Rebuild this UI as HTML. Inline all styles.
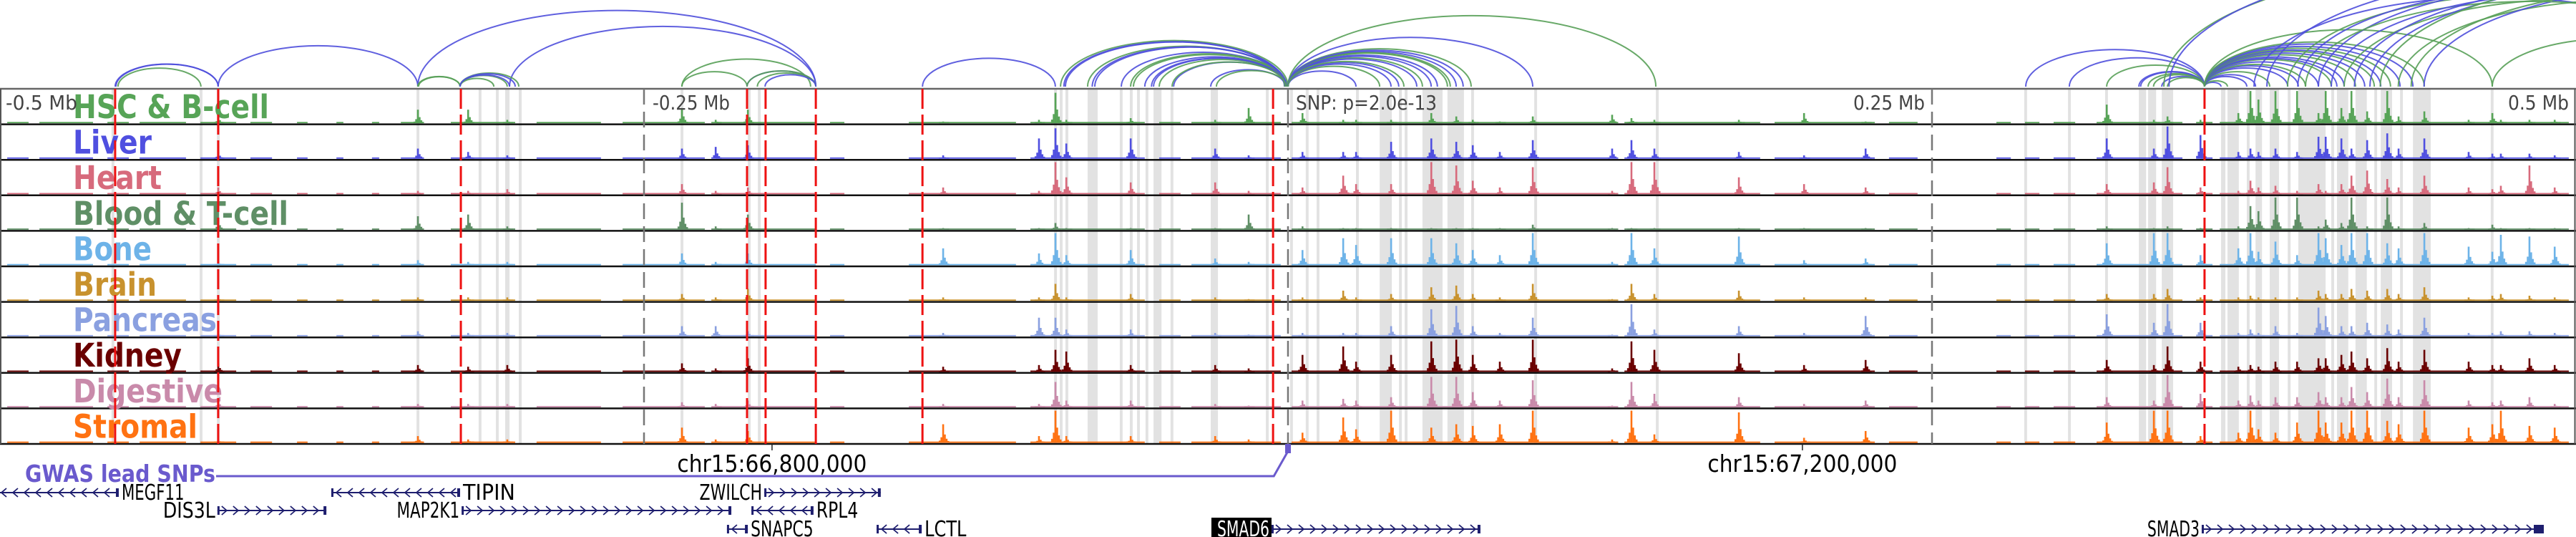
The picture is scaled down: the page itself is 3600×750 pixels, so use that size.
<!DOCTYPE html>
<html><head><meta charset="utf-8">
<style>
html,body{margin:0;padding:0;background:#fff;}
svg{display:block;}
text{font-family:"DejaVu Sans","Liberation Sans",sans-serif;}
</style></head>
<body>
<svg id="fig" width="3600" height="750" viewBox="0 0 3600 750" xmlns="http://www.w3.org/2000/svg">
  <g id="arcs"></g>
  <g id="bands"></g>
  <g id="signals"></g>
  <g id="frame"></g>
  <g id="labels"></g>
  <g id="marks"></g>
  <g id="axis"></g>
  <g id="genes"></g>
</svg>
<script>
const tissues = ["HSC & B-cell","Liver","Heart","Blood & T-cell","Bone","Brain","Pancreas","Kidney","Digestive","Stromal"];
const tissueColors = ["#57a457","#4f4fe0","#d76a7c","#5f8f66","#6db3e8","#c8922e","#8aa0e0","#6a0000","#c98aaa","#ff7212"];
const labelWidths = [274,110,124,301,110,117,201,152,209,174];

const peakKb = [-337.8,-415.3,-318.3,-303.1,-235.3,-222.2,-209.7,-133.9,-96.7,-90.3,-86.1,-61.1,-28.3,-15.3,5.6,21.4,26.4,40,55.6,65.3,71.7,82.2,95,125.8,133.3,142.2,175,200.3,224.2,317.8,336.1,341.4,354.2,368.9,373.6,376.7,383.3,391.7,400,402.8,408.9,412.8,418.9,426.7,431.1,441.1,458.3,467.5,470.8,481.9,491.7];
const hscVals = [.4,.2,.4,.1,.45,.1,.4,.05,.1,.9,.1,.15,.1,.45,.3,.1,.1,.1,.3,.2,.1,.05,.2,.25,.15,.1,.1,.3,.05,.55,.1,.2,.1,.3,1,.7,.95,1,.3,1,.45,1,.35,1,.2,.35,.1,.3,.1,.1,.1];
const liverVals = [.3,.2,.2,.1,.3,.35,.4,.1,.6,.9,.45,.6,.3,.1,.2,.2,.2,.5,.6,.5,.4,.2,.55,.3,.55,.3,.2,.1,.3,.6,.3,1,.7,.2,.3,.2,.3,.2,.65,.65,.6,.3,.55,.75,.3,.6,.2,.15,.15,.15,.1];
const heartVals = [.1,.2,.1,.15,.3,.1,.2,.2,.1,.95,.5,.35,.35,.1,.2,.55,.3,.3,1,.85,.4,.2,.8,.1,1,.95,.5,.3,.2,.3,.35,.8,.2,.1,.4,.2,.25,.1,.3,.1,.3,.55,.7,.45,.2,.55,.2,.15,.25,.85,.2];
const bloodVals = [.4,.3,.45,.1,.8,.1,.45,.05,.05,.2,.05,.05,.05,.45,.1,.05,.05,.05,.05,.05,.05,.05,.15,.05,.05,.05,.05,.05,.05,.1,.05,.1,.05,.1,.7,.55,1,1,.1,.3,.2,1,.1,1,.1,.2,.05,.15,.05,.05,.05];
const boneVals = [.15,.1,.1,.1,.35,.1,.35,.5,.35,1,.3,.45,.2,.1,.45,.8,.6,.8,.8,.65,.45,.3,1,.1,1,.5,.85,.15,.2,.65,.95,1,.3,.5,.95,.4,.7,.3,1,.8,.6,1,1,.65,.5,1,.55,.4,.9,.85,.55];
const brainVals = [.1,.1,.1,.1,.2,.1,.35,.1,.1,.5,.1,.2,.1,.05,.1,.3,.1,.2,.4,.45,.2,.1,.5,.05,.5,.2,.3,.1,.1,.2,.2,.35,.1,.1,.15,.1,.1,.1,.3,.2,.2,.35,.3,.35,.2,.4,.1,.15,.2,.15,.1];
const pancVals = [.15,.1,.1,.1,.3,.3,.15,.1,.55,.55,.2,.2,.1,.05,.1,.1,.1,.3,.8,.9,.3,.1,.55,.05,.95,.2,.3,.1,.6,.65,.4,1,.4,.1,.2,.1,.3,.1,.85,.6,.3,.3,.4,.35,.2,.55,.1,.1,.15,.15,.1];
const kidneyVals = [.2,.25,.15,.2,.25,.1,.4,.15,.2,.65,.6,.2,.2,.1,.5,.75,.3,.5,.9,1,.5,.3,.95,.1,.9,.65,.55,.2,.35,.35,.2,.75,.3,.15,.2,.15,.3,.3,.4,.4,.5,.6,.4,.7,.3,.65,.3,.2,.2,.4,.2];
const digVals = [.1,.2,.1,.1,.15,.1,.2,.1,.1,.75,.2,.2,.1,.05,.2,.25,.2,.3,.9,.9,.45,.2,.8,.05,.75,.4,.3,.1,.2,.3,.2,1,.4,.2,.35,.2,.3,.3,.45,.3,.3,.6,.45,.85,.3,.8,.2,.15,.2,.3,.1];
const stromVals = [.2,.1,.1,.1,.45,.1,.35,.55,.2,1,.2,.2,.2,.1,.3,.75,.4,1,.45,.55,.5,.55,1,.1,1,.25,.9,.15,.35,.6,.95,1,.2,.3,1,.4,.3,.6,1,.6,.6,1,1,.65,.55,1,.45,.55,.95,.5,.45];
const seriesVals = [hscVals,liverVals,heartVals,bloodVals,boneVals,brainVals,pancVals,kidneyVals,digVals,stromVals];

const coverageKb = [[-497.2,-488.9],[-484.7,-463.9],[-458.3,-450],[-445.8,-427.8],[-422.2,-408.3],[-402.8,-394.4],[-384.7,-380.6],[-369.4,-366.7],[-355.6,-352.8],[-344.4,-336.1],[-325,-300],[-291.7,-266.7],[-258.3,-226.4],[-222.2,-183.3],[-177.8,-172.2],[-147.2,-105.6],[-100,-55.6],[-50,-41.7],[-37.5,-2.8],[1.4,125],[130.6,183.3],[188.9,227.8],[233.3,244.4],[275,280.6],[286.1,291.7],[297.2,305.6],[313.9,347.2],[354.2,358.9],[361.7,497.2]];

const bandKb = [[-456.7],[-422.5],[-415.8],[-338.3],[-314.2],[-307.5],[-303.9,1.7],[-298.6],[-235.8],[-209.7],[-205.8],[-90.8],[-88.6],[-86.4],[-77.8,3.9],[-65.3],[-61.4],[-58.6],[-55.3],[-52.2,3.1],[-45.6],[-30,2.8],[-8.6],[0.8],[6.9],[11.1],[26.4],[35.6,4.7],[43.1],[45.3],[52.2,7.8],[61.9,6.4],[71.1],[95.6],[142.8],[285.8],[302.8],[317.2],[330.3,2.8],[333.9,3.1],[339.2,4.4],[362.2,1.7],[364.7,4.4],[372.2],[375.6,2.5],[381.1,3.6],[388.1],[392.2,10.6],[405],[407.2,4.4],[414.4,4.4],[421.7],[424.2,4.4],[431.7],[436.7,6.9],[466.9]];

const snpKb = [-455.3,-415.3,-321.1,-210,-202.8,-183.3,-141.9,-5.8,355.8];
const tickKb = [-250,0,250];

const arcStart = [-455.3,-455,-454.2,-415.3,-337.8,-302.2,-337.8,-337.5,-321.4,-321.4,-321.4,-321.4,-321.4,-235.3,-235.3,-210,-210,-206,-203,-141.9,
 -88.3,-87,-77.8,-75,-64.7,-61.1,-55.6,-52.2,-50,-44.4,-30,-27.8,-86.4,-76,-60,-53,-45,
 0,0,0,0,0,0,0,0,0,0,0,0,0,0,0,0,
 286.4,303.3,317.8,330.3,333.9,339.2,341.4,331,336,
 340,342,
 355.8,355.8,355.8,355.8,355.8,355.8,355.8,355.8,355.8,355.8,355.8,355.8,355.8,355.8,355.8,355.8,355.8,355.8,355.8,355.8,355.8,
 467.5,375,388,392,400,410,420,431,441,395,405,414,424,436,380];
const arcEnd = [-415.3,-415.3,-422,-337.8,-183.3,-183.3,-321.4,-321.4,-303.1,-302.2,-298.6,-308.3,-300,-210,-185.3,-183.3,-183.3,-183.3,-183.3,-90.3,
 0,-1,-1.4,-0.5,-1,-0.5,-1.2,-0.5,-1,-0.5,-1,-0.5,-1,-1,-1,-1,-1,
 26.4,35.6,40,43,52.2,55.6,61.9,65.3,71.1,95,142.8,58,50,63,68,45,
 355.8,355.8,355.8,355.8,355.8,355.8,355.8,355.8,355.8,
 600,620,
 362.2,364.7,372.2,375.6,381.1,388.1,392.2,395,400,405,407.2,410,414.4,418,421.7,424.2,428,431.7,436.7,441.1,467.5,
 560,560,580,600,620,590,640,610,650,570,600,630,660,640,620];
const arcColor = ["b","b","g","b","b","b","g","g","g","b","g","g","b","g","g","b","g","g","b","b",
 "g","b","g","b","b","g","b","b","g","b","b","g","b","b","g","b","g",
 "b","g","b","b","g","b","g","b","g","b","g","b","b","g","b","g",
 "b","b","g","b","g","b","g","b","g",
 "g","b",
 "b","g","b","b","g","b","b","g","b","g","b","b","g","b","g","b","g","b","b","g","g",
 "g","b","g","b","b","g","b","g","b","g","b","b","g","g","b"];

const genes = [
 {name:"MEGF11",s:-520,e:-453.9,strand:-1,row:0},
 {name:"TIPIN",s:-371.4,e:-321.4,strand:-1,row:0},
 {name:"ZWILCH",s:-203.3,e:-158.1,strand:1,row:0},
 {name:"DIS3L",s:-415.6,e:-373.3,strand:1,row:1},
 {name:"MAP2K1",s:-320.8,e:-216.1,strand:1,row:1},
 {name:"RPL4",s:-208.3,e:-184.2,strand:-1,row:1},
 {name:"SNAPC5",s:-217.8,e:-209.7,strand:-1,row:2},
 {name:"LCTL",s:-159.7,e:-142.2,strand:-1,row:2},
 {name:"SMAD6",s:-6.4,e:74.7,strand:1,row:2,hl:true},
 {name:"SMAD3",s:354.7,e:487.5,strand:1,row:2}
];

const NS="http://www.w3.org/2000/svg";
function X(kb){return 1800+kb*3.6;}
const TOP=124, TH=49.6, MAXH=45;
function trackTop(i){return TOP+i*TH;}
function el(tag,attrs,parent){const e=document.createElementNS(NS,tag);for(const k in attrs)e.setAttribute(k,attrs[k]);parent.appendChild(e);return e;}

// arcs
const gArcs=document.getElementById('arcs');
const ABASE=121;
for(let i=0;i<arcStart.length;i++){
  const x1=X(arcStart[i]),x2=X(arcEnd[i]);const w=Math.abs(x2-x1);
  const h=0.36*Math.pow(w,0.9);
  const p=el('path',{d:`M${x1},${ABASE} A${w/2},${h} 0 0 1 ${x2},${ABASE}`,fill:'none',stroke:arcColor[i]==='b'?'#4f4fdc':'#58a058','stroke-width':2,'stroke-opacity':0.9},gArcs);
  
  
}

// bands
const gB=document.getElementById('bands');
bandKb.forEach(b=>{
  const w=(b[1]||1.1)*3.6;
  const r=el('rect',{x:X(b[0]),y:TOP,width:w,height:TH*10,fill:'#e2e2e2'},gB);
  
  
});

// signals
const gS=document.getElementById('signals');
const profile=[0.12,0.3,1,0.45,0.22,0.1];
tissues.forEach((t,ti)=>{
  const g=el('g',{fill:tissueColors[ti]},gS);
  
  
  const bottom=trackTop(ti)+TH-1.5;
  coverageKb.forEach(c=>{
    el('rect',{x:X(c[0]),y:bottom-1.8,width:(c[1]-c[0])*3.6,height:1.8},g);
  });
  const vals=seriesVals[ti];
  peakKb.forEach((kb,pi)=>{
    const v=vals[pi];const cx=X(kb);
    profile.forEach((f,k)=>{
      const h=Math.min(MAXH,Math.max(1.8,v*f*MAXH*1.05));
      const r=el('rect',{x:cx+(k-2)*2.4-1.2,y:bottom-h,width:2.6,height:h},g);
      
      
    });
  });
});

// frame
const gF=document.getElementById('frame');
el('line',{x1:0,y1:TOP,x2:3600,y2:TOP,stroke:'#666','stroke-width':2.5},gF);
for(let i=1;i<=10;i++){const y=trackTop(i);el('line',{x1:0,y1:y,x2:3600,y2:y,stroke:'#111','stroke-width':2.5},gF);}
el('line',{x1:1,y1:TOP,x2:1,y2:trackTop(10),stroke:'#555','stroke-width':2},gF);
el('line',{x1:3598.5,y1:TOP,x2:3598.5,y2:trackTop(10),stroke:'#555','stroke-width':2},gF);

// labels
const gL=document.getElementById('labels');
tissues.forEach((t,ti)=>{
  const tx=el('text',{x:102,y:trackTop(ti)+41,fill:tissueColors[ti],'font-size':45,'font-weight':'bold',textLength:labelWidths[ti],lengthAdjust:'spacingAndGlyphs'},gL);
  tx.textContent=t;
  
  
});

// markers
const gM=document.getElementById('marks');
tickKb.forEach(kb=>{
  const l=el('line',{x1:X(kb),y1:TOP,x2:X(kb),y2:trackTop(10),stroke:'#777','stroke-width':2.5,'stroke-dasharray':'22 10'},gM);
  
  
});
snpKb.forEach(kb=>{
  const l=el('line',{x1:X(kb),y1:TOP,x2:X(kb),y2:trackTop(10),stroke:'#ee1111','stroke-width':3,'stroke-dasharray':'28 8'},gM);
  
  
});
</script>
<script>
(function(){
const ax=document.getElementById('axis');
function T(txt,x,y,size,fill,anchor,len,name){
  const t=el('text',{x:x,y:y,'font-size':size,fill:fill,'text-anchor':anchor||'start'},ax);
  if(len){t.setAttribute('textLength',len);t.setAttribute('lengthAdjust','spacingAndGlyphs');}
  t.textContent=txt;
  
  
  return t;
}
T("-0.5 Mb",8,153,28,'#444','start',100,'tick-label-minus-0-5');
T("-0.25 Mb",912,153,28,'#444','start',108,'tick-label-minus-0-25');
T("SNP: p=2.0e-13",1811,153,28,'#444','start',197,'snp-pvalue-label');
T("0.25 Mb",2690,153,28,'#444','end',100,'tick-label-0-25');
T("0.5 Mb",3590,153,28,'#444','end',85,'tick-label-0-5');
const posLabels=["chr15:66,800,000","chr15:67,200,000"];
const posKb=[-200.3,199.7];
posLabels.forEach((p,i)=>{
  const l=el('line',{x1:X(posKb[i]),y1:620,x2:X(posKb[i]),y2:629,stroke:'#222','stroke-width':1.5},ax);
  
  
  T(p,X(posKb[i]),659,33,'#000','middle',265,'coordinate-label');
});
const gw=T("GWAS lead SNPs",35,673,33,'#6a5acd','start',266,'gwas-lead-snps-label');
gw.setAttribute('font-weight','bold');
const gl=el('path',{d:`M302,665 L${X(-5.5)},665 L${X(-0.3)},632`,fill:'none',stroke:'#6a5acd','stroke-width':3},ax);


const gr=el('rect',{x:X(0)-4,y:620,width:8,height:13,fill:'#6a5acd'},ax);



const gG=document.getElementById('genes');
const rowY=[688,713,739];
genes.forEach(gd=>{
  const g=el('g',{},gG);
  
  
  const x1=Math.max(X(gd.s),-5),x2=X(gd.e),y=rowY[gd.row];
  el('line',{x1:x1,y1:y,x2:x2,y2:y,stroke:'#1e1e6e','stroke-width':2},g);
  let d='';
  for(let x=x1+10;x<x2-6;x+=16){
    if(gd.strand>0) d+=`M${x-4},${y-6} L${x+3},${y} L${x-4},${y+6} `;
    else d+=`M${x+4},${y-6} L${x-3},${y} L${x+4},${y+6} `;
  }
  el('path',{d:d,fill:'none',stroke:'#1e1e6e','stroke-width':1.8},g);
  if(X(gd.s)>0) el('rect',{x:x1,y:y-6,width:3,height:12,fill:'#1e1e6e'},g);
  el('rect',{x:x2-(gd.name==='SMAD3'?14:4),y:y-6,width:gd.name==='SMAD3'?14:4,height:12,fill:'#1e1e6e'},g);
  const right=gd.strand<0;
  const lx=right?x2+4:x1-3;
  if(gd.hl){
    el('rect',{x:x1-84,y:y-16,width:84,height:31,fill:'#000'},g);
  }
  const t=el('text',{x:lx,y:y+10,'font-size':30,fill:gd.hl?'#fff':'#000','text-anchor':right?'start':'end',textLength:gd.name.length*14.6,lengthAdjust:'spacingAndGlyphs'},g);
  t.textContent=gd.name;
  
  
});
})();
</script>
</body></html>
